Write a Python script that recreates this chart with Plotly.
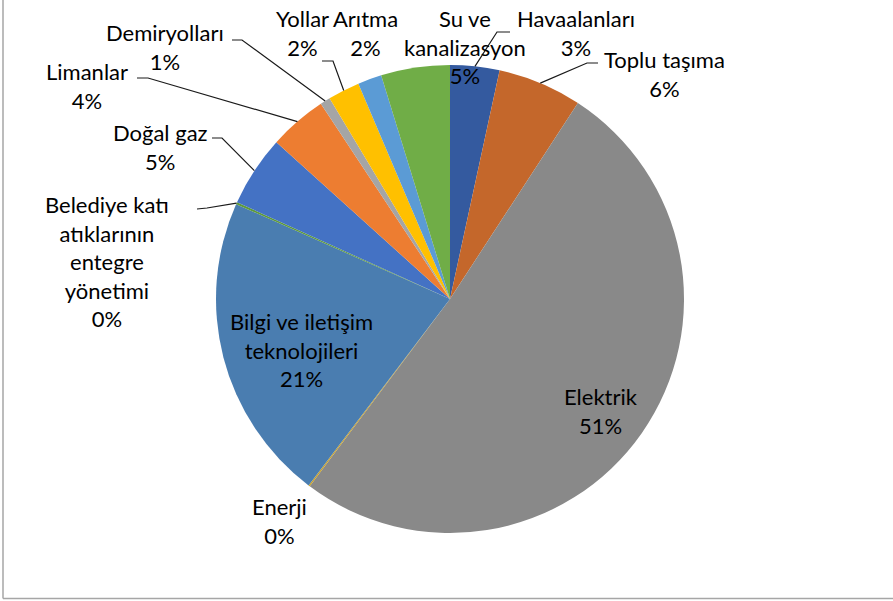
import math
import plotly.graph_objects as go

# ---- data (clockwise from 12 o'clock) ----
labels = ["Havaalanları", "Toplu taşıma", "Elektrik", "Enerji",
          "Bilgi ve iletişim teknolojileri",
          "Belediye katı atıklarının entegre yönetimi",
          "Doğal gaz", "Limanlar", "Demiryolları", "Yollar", "Arıtma",
          "Su ve kanalizasyon"]
values = [3.4, 5.8, 51.0, 0.1, 21.3, 0.15, 4.9, 4.0, 0.7, 2.2, 1.65, 4.75]
display_names = ["Havaalanları", "Toplu taşıma", "Elektrik", "Enerji",
                 "Bilgi ve iletişim<br>teknolojileri",
                 "Belediye katı<br>atıklarının<br>entegre<br>yönetimi",
                 "Doğal gaz", "Limanlar", "Demiryolları", "Yollar", "Arıtma",
                 "Su ve<br>kanalizasyon"]

# ---- styles / layout ----
colors = ["#345A9F", "#C4672B", "#898989", "#C9A22A", "#4A7DB0", "#5E9A3A",
          "#4472C4", "#ED7D31", "#A5A5A5", "#FFC000", "#5B9BD5", "#70AD47"]
W, H = 893, 601
ML, MR, MT, MB = 216, 209, 65, 68
R = (W - ML - MR) / 2.0
CX, CY = ML + R, MT + R

# label centres in pixels
label_pos = [(576, 33), (664, 74), (601, 411), (279, 521), (301, 350),
             (107, 261), (160, 147), (87, 86), (165, 47), (302, 33),
             (365, 33), (465, 47)]
# leader line label-side points (pixels), None = no leader
leader_pts = [[(510, 32), (497, 32)], [(598, 63), (587, 63)], None, None, None,
              [(197, 209), (207, 208)], [(212, 138), (222, 138)],
              [(137, 78), (148, 78)], [(232, 40), (242, 40)],
              [(322, 61), (333, 61)], None, None]


def px2paper(x, y):
    return (x - ML) / (W - ML - MR), (H - MB - y) / (H - MT - MB)


fig = go.Figure(go.Pie(
    labels=labels, values=values, sort=False, direction="clockwise",
    rotation=0, textinfo="none", hoverinfo="label+percent",
    marker=dict(colors=colors, line=dict(width=0)), showlegend=False))

total = sum(values)
annotations = []
shapes = []
cum = 0.0
for i, v in enumerate(values):
    mid = (cum + v / 2) / total * 2 * math.pi
    cum += v
    pct = round(v / total * 100)
    lx, ly = label_pos[i]
    ax, ay = px2paper(lx, ly)
    annotations.append(dict(
        x=ax, y=ay, xref="paper", yref="paper", showarrow=False,
        text=f"{display_names[i]}<br>{pct}%", align="center",
        xanchor="center", yanchor="middle",
        font=dict(family="Lato", size=22, color="#000000")))
    if leader_pts[i]:
        ex = CX + R * math.sin(mid)
        ey = CY - R * math.cos(mid)
        pts = [px2paper(*p) for p in leader_pts[i]] + [px2paper(ex, ey)]
        path = "M " + " L ".join(f"{x:.5f},{y:.5f}" for x, y in pts)
        shapes.append(dict(type="path", xref="paper", yref="paper", path=path,
                           line=dict(color="#1a1a1a", width=1.2)))

# chart frame (left and bottom edges visible)
fx0, fy0 = px2paper(3, 0)
fx1, fy1 = px2paper(3, 598.5)
shapes.append(dict(type="line", xref="paper", yref="paper",
                   x0=fx0, y0=fy0, x1=fx1, y1=fy1,
                   line=dict(color="#A6A6A6", width=1.5)))
bx0, by0 = px2paper(3, 598.5)
bx1, by1 = px2paper(893, 598.5)
shapes.append(dict(type="line", xref="paper", yref="paper",
                   x0=bx0, y0=by0, x1=bx1, y1=by1,
                   line=dict(color="#A6A6A6", width=1.5)))

fig.update_layout(
    width=W, height=H,
    margin=dict(l=ML, r=MR, t=MT, b=MB, autoexpand=False),
    paper_bgcolor="white", plot_bgcolor="white",
    annotations=annotations, shapes=shapes,
    font=dict(family="Lato", color="#000000"))

fig.write_html("out.html",
               config={"displayModeBar": False},
               post_script="document.body.style.margin='0';"
                           "document.body.style.overflow='hidden';")
